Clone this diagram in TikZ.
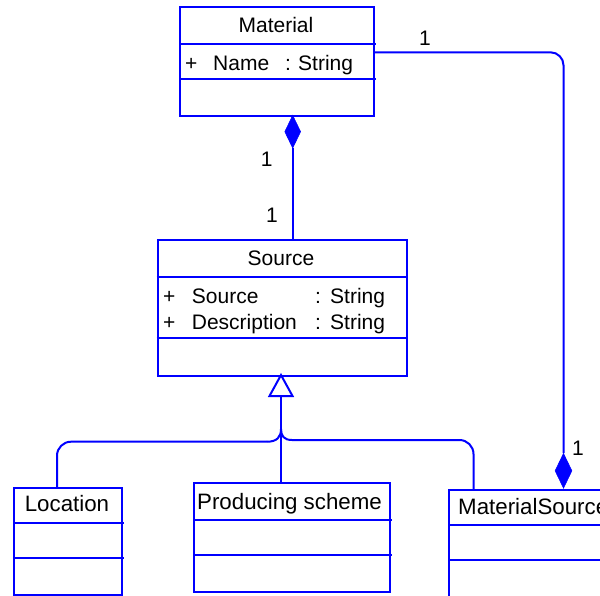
\documentclass[tikz,border=0pt]{standalone}
\usepackage{fontspec}
\setmainfont{Liberation Sans}
\usetikzlibrary{shapes.geometric}
\definecolor{umlblue}{RGB}{0,0,255}
\begin{document}
\begin{tikzpicture}[x=1pt,y=-1pt,
  line/.style={draw=umlblue, line width=2pt},
  classbox/.style={line, rectangle, inner sep=0pt, anchor=north west},
  txt/.style={inner sep=0pt, font=\fontsize{21}{25}\selectfont, text=black},
  big/.style={font=\fontsize{22.3}{26}\selectfont},
  lbl/.style={txt, anchor=base west},
  ctr/.style={txt, anchor=base},
  comp/.style={diamond, fill=umlblue, draw=umlblue, line width=0.5pt, inner sep=0pt, minimum width=16pt, minimum height=34pt},
]
\clip (0,0) rectangle (600,595);
\fill[white] (0,0) rectangle (600,595);

% Material
\node[classbox, minimum width=194pt, minimum height=109pt] (mat) at (179,6) {};
\draw[line] (179,44) -- (376,44) (179,79) -- (376,79);
\node[ctr] (matT) at (276,32) {Material};
\node[lbl] (matP) at (185,70.5) {+};
\node[lbl] (matN) at (213,70.5) {Name};
\node[lbl] (matC) at (285,70.5) {:};
\node[lbl] (matS) at (298,70.5) {String};

% Source
\node[classbox, minimum width=249pt, minimum height=135.5pt] (src) at (156.7,239) {};
\draw[line] (156.7,276.7) -- (408,276.7) (156.7,338.3) -- (408,338.3);
\node[ctr] (srcT) at (281,265) {Source};
\node[lbl] (srcP1) at (163,303) {+};
\node[lbl] (srcN1) at (191.7,303) {Source};
\node[lbl] (srcC1) at (315,303) {:};
\node[lbl] (srcS1) at (330,303) {String};
\node[lbl] (srcP2) at (163,329.3) {+};
\node[lbl] (srcN2) at (191.7,329.3) {Description};
\node[lbl] (srcC2) at (315,329.3) {:};
\node[lbl] (srcS2) at (330,329.3) {String};

% Location
\node[classbox, minimum width=108pt, minimum height=107pt] (loc) at (13.4,487) {};
\draw[line] (13.4,522.7) -- (124,522.7) (13.4,558.3) -- (124,558.3);
\node[ctr, big] (locT) at (67,511.5) {Location};

% Producing scheme
\node[classbox, minimum width=196pt, minimum height=108.4pt] (prod) at (193.3,482.3) {};
\draw[line] (193.3,520) -- (392,520) (193.3,555) -- (392,555);
\node[ctr, big] (prodT) at (289.5,509) {Producing scheme};

% MaterialSource
\node[classbox, minimum width=200pt, minimum height=160pt] (ms) at (448,489) {};
\draw[line] (448,525) -- (650,525) (448,560) -- (650,560);
\node[lbl, big] (msT) at (458,514) {MaterialSource};

% Composition Material -> Source
\node[comp, minimum height=33pt] (d1) at (292.7,131.7) {};
\draw[line] (d1.south) -- (d1.south |- src.north);
\node[txt] (l1) at (266.7,159) {1};
\node[txt] (l2) at (272,215) {1};

% Composition Material -> MaterialSource
\node[comp, minimum height=35pt, minimum width=17pt] (d2) at (563.5,470.8) {};
\coordinate (m1) at (373,52.3);
\draw[line, rounded corners=13pt] (m1) -| (d2.north);
\node[txt] (l3) at (425,38) {1};
\node[txt] (l4) at (578,448) {1};

% Generalization
\draw[line, fill=white] (281,375) -- (292.5,396) -- (269.5,396) -- cycle;
\coordinate (tb) at (281,396);
\coordinate (jn) at (281,429);
\draw[line] (tb) -- (tb |- prod.north);
\draw[line] (jn) .. controls (281,437) and (277,441.7) .. (267,441.7);
\draw[line, rounded corners=14pt] (267,441.7) -| ([xshift=43.6pt]loc.north west);
\draw[line] (jn) .. controls (281,436) and (284,440) .. (292,440);
\draw[line, rounded corners=14pt] (292,440) -| ([xshift=25.5pt]ms.north west);
\end{tikzpicture}
\end{document}
